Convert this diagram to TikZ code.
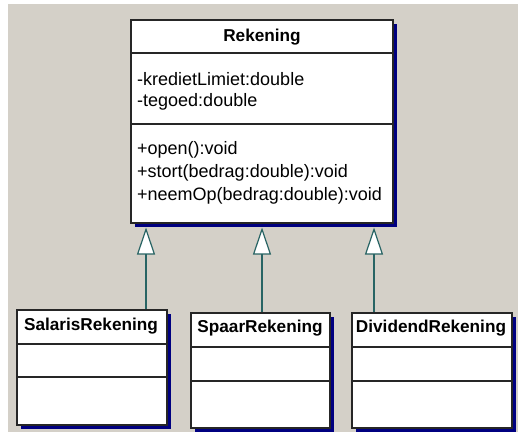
\documentclass[tikz,border=0pt]{standalone}
\usepackage{fontspec}
\setmainfont{Liberation Sans}
\usetikzlibrary{arrows.meta,shadows}
\definecolor{bggrey}{RGB}{212,208,200}
\definecolor{shadownavy}{RGB}{0,0,128}
\definecolor{linkteal}{RGB}{40,100,100}
\begin{document}
\begin{tikzpicture}[x=1pt,y=-1pt,
  classbox/.style={draw=black!85, line width=1.3pt, fill=white, inner sep=0pt,
    general shadow={fill=shadownavy, shadow xshift=4pt, shadow yshift=-4pt}},
  divider/.style={draw=black!85, line width=1.3pt},
  title/.style={font=\fontsize{17.2}{20}\selectfont\bfseries, inner sep=0pt},
  member/.style={font=\fontsize{18}{22}\selectfont, inner sep=0pt, anchor=west},
  gen/.style={draw=linkteal, line width=1.3pt,
    -{Triangle[length=27pt,width=18pt,fill=white,line width=1.2pt]}}]
\useasboundingbox (0,0) rectangle (519,436);
\fill[bggrey] (8,4) rectangle (518,432);

% Rekening
\node[classbox, minimum width=262pt, minimum height=203pt] (rk) at (262,121.5) {};
\draw[divider] (131,53) -- (393,53);
\draw[divider] (131,124) -- (393,124);
\node[title] (rkt) at (262,37) {Rekening};
\node[member] (a1) at (137,79) {-kredietLimiet:double};
\node[member] (a2) at (137,102) {-tegoed:double};
\node[member] (m1) at (137,150) {+open():void};
\node[member] (m2) at (137,173) {+stort(bedrag:double):void};
\node[member] (m3) at (137,196) {+neemOp(bedrag:double):void};

% SalarisRekening
\node[classbox, minimum width=150pt, minimum height=115pt] (sr) at (92,367.5) {};
\draw[divider] (17,344) -- (167,344);
\draw[divider] (17,377) -- (167,377);
\node[title] (srt) at (91,326) {SalarisRekening};

% SpaarRekening
\node[classbox, minimum width=139pt, minimum height=115pt] (sp) at (260.5,370.5) {};
\draw[divider] (191,347) -- (330,347);
\draw[divider] (191,381) -- (330,381);
\node[title] (spt) at (260,328) {SpaarRekening};

% DividendRekening
\node[classbox, minimum width=160pt, minimum height=115pt] (dr) at (432,370.5) {};
\draw[divider] (352,347) -- (512,347);
\draw[divider] (352,381) -- (512,381);
\node[title] (drt) at (431,328) {DividendRekening};

% generalization arrows
\coordinate (t1) at (146,227.5);
\coordinate (t2) at (262,227.5);
\coordinate (t3) at (374,227.5);
\draw[gen] (sr.north -| t1) -- (t1);
\draw[gen] (sp.north -| t2) -- (t2);
\draw[gen] (dr.north -| t3) -- (t3);
\end{tikzpicture}
\end{document}
